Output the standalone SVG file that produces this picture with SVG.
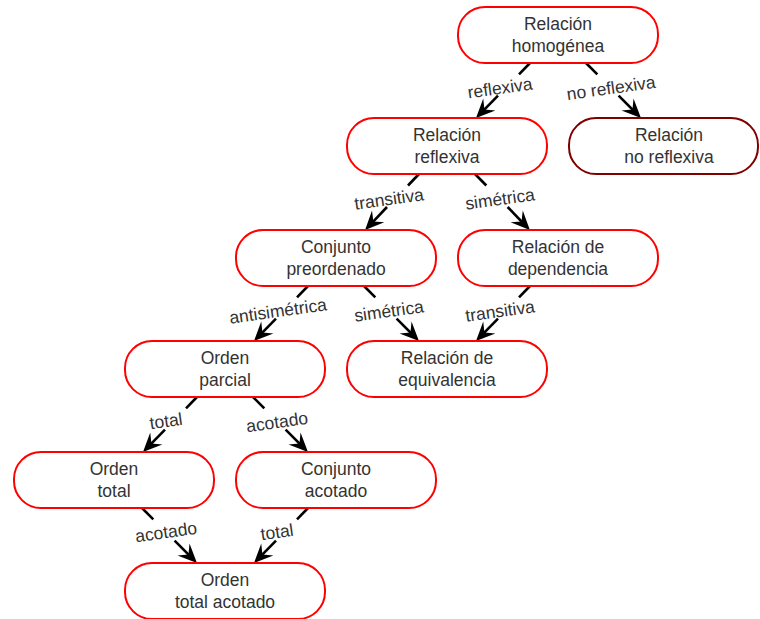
<svg xmlns="http://www.w3.org/2000/svg" width="760" height="619" viewBox="0 0 760 619">
<style>
.n{fill:#fff;stroke:#f00;stroke-width:2}
.d{fill:#fff;stroke:#800000;stroke-width:2}
.t{font-family:"Liberation Sans",Arial,sans-serif;font-size:17.5px;fill:#333;text-anchor:middle}
.l{font-family:"Liberation Sans",Arial,sans-serif;font-size:17.5px;fill:#333;text-anchor:middle}
.e{stroke:#000;stroke-width:2.6;fill:none}
</style>
<defs>
<marker id="a" markerUnits="userSpaceOnUse" orient="auto" refX="0" refY="0" markerWidth="30" markerHeight="30" viewBox="-15 -15 30 30" overflow="visible">
<path d="M8,0 L-11,-8.5 L-4,0 L-11,8.5 Z" fill="#000"/>
</marker>
</defs>
<rect width="760" height="619" fill="#fff"/>
<g id="connectors">
<path class="e" d="M530,63 L519,74.3"/><path class="e" d="M498,95.6 L481.6,112.3" marker-end="url(#a)"/>
<path class="e" d="M586,63 L597.3,74.3"/><path class="e" d="M618.6,95.6 L635.3,112.3" marker-end="url(#a)"/>
<path class="e" d="M419,174 L408,185.5"/><path class="e" d="M387,207 L370.6,224.3" marker-end="url(#a)"/>
<path class="e" d="M475,174 L486.3,185.5"/><path class="e" d="M507.6,207 L524.3,224.3" marker-end="url(#a)"/>
<path class="e" d="M308,286 L297,297.3"/><path class="e" d="M276,318.6 L259.6,335.3" marker-end="url(#a)"/>
<path class="e" d="M364,286 L375.3,297.3"/><path class="e" d="M396.6,318.6 L413.3,335.3" marker-end="url(#a)"/>
<path class="e" d="M530,286 L519,297.3"/><path class="e" d="M498,318.6 L481.6,335.3" marker-end="url(#a)"/>
<path class="e" d="M197,397 L186,408.3"/><path class="e" d="M165,429.6 L148.6,446.3" marker-end="url(#a)"/>
<path class="e" d="M253,397 L264.3,408.3"/><path class="e" d="M285.6,429.6 L302.3,446.3" marker-end="url(#a)"/>
<path class="e" d="M142,508 L153.3,519.3"/><path class="e" d="M174.6,540.6 L191.3,557.3" marker-end="url(#a)"/>
<path class="e" d="M308,508 L297,519.3"/><path class="e" d="M276,540.6 L259.6,557.3" marker-end="url(#a)"/>
<g>
<text class="l" transform="translate(500,88) rotate(-8)" y="6">reflexiva</text>
<text class="l" transform="translate(611,88) rotate(-8)" y="6">no reflexiva</text>
<text class="l" transform="translate(389,199) rotate(-8)" y="6">transitiva</text>
<text class="l" transform="translate(500,199) rotate(-8)" y="6">simétrica</text>
<text class="l" transform="translate(278,311) rotate(-8)" y="6">antisimétrica</text>
<text class="l" transform="translate(389,311) rotate(-8)" y="6">simétrica</text>
<text class="l" transform="translate(500,311) rotate(-8)" y="6">transitiva</text>
<text class="l" transform="translate(166,421) rotate(-8)" y="6">total</text>
<text class="l" transform="translate(277,422) rotate(-8)" y="6">acotado</text>
<text class="l" transform="translate(166,532) rotate(-8)" y="6">acotado</text>
<text class="l" transform="translate(277,532) rotate(-8)" y="6">total</text>
</g>
</g>
<g id="homogenea"><rect class="n" x="458" y="7" width="200" height="56" rx="27"/><text class="t" x="558" y="30">Relación</text><text class="t" x="558" y="52">homogénea</text></g>
<g id="reflexiva"><rect class="n" x="347" y="118" width="200" height="56" rx="27"/><text class="t" x="447" y="141">Relación</text><text class="t" x="447" y="163">reflexiva</text></g>
<g id="noreflexiva"><rect class="d" x="569" y="118" width="189" height="56" rx="27"/><text class="t" x="669" y="141">Relación</text><text class="t" x="669" y="163">no reflexiva</text></g>
<g id="preordenado"><rect class="n" x="236" y="230" width="200" height="56" rx="27"/><text class="t" x="336" y="253">Conjunto</text><text class="t" x="336" y="275">preordenado</text></g>
<g id="dependencia"><rect class="n" x="458" y="230" width="200" height="56" rx="27"/><text class="t" x="558" y="253">Relación de</text><text class="t" x="558" y="275">dependencia</text></g>
<g id="parcial"><rect class="n" x="125" y="341" width="200" height="56" rx="27"/><text class="t" x="225" y="364">Orden</text><text class="t" x="225" y="386">parcial</text></g>
<g id="equivalencia"><rect class="n" x="347" y="341" width="200" height="56" rx="27"/><text class="t" x="447" y="364">Relación de</text><text class="t" x="447" y="386">equivalencia</text></g>
<g id="total"><rect class="n" x="14" y="452" width="200" height="56" rx="27"/><text class="t" x="114" y="475">Orden</text><text class="t" x="114" y="497">total</text></g>
<g id="acotado"><rect class="n" x="236" y="452" width="200" height="56" rx="27"/><text class="t" x="336" y="475">Conjunto</text><text class="t" x="336" y="497">acotado</text></g>
<g id="totalacotado"><rect class="n" x="125" y="563" width="200" height="56" rx="27"/><text class="t" x="225" y="586">Orden</text><text class="t" x="225" y="608">total acotado</text></g>
</svg>
